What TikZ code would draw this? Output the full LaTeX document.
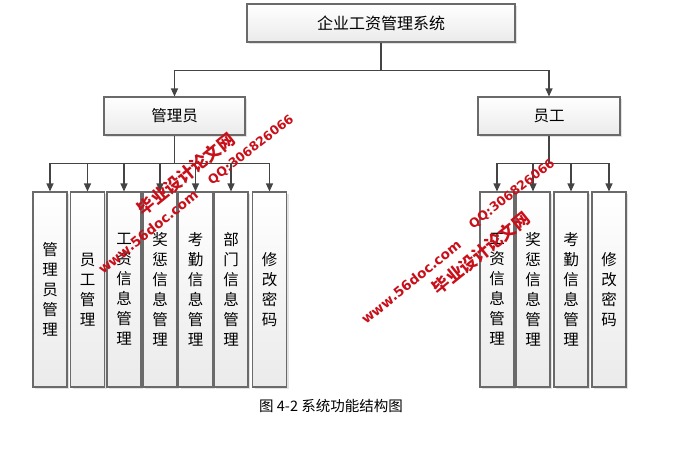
\documentclass[tikz,border=0pt]{standalone}
\usepackage{fontspec}
\setmainfont{Noto Sans CJK SC}
\newfontfamily\wmlatin{DejaVu Sans}
\usetikzlibrary{arrows.meta,shadows,calc}
\definecolor{boxline}{HTML}{6A6A6A}
\definecolor{conn}{HTML}{444444}
\definecolor{wmred}{HTML}{C8101A}
\tikzset{
  box/.style={draw=boxline, line width=1.1pt, top color=white, bottom color=gray!16,
    drop shadow={shadow xshift=2pt, shadow yshift=-2pt, fill=gray!45, opacity=0.5},
    inner sep=0pt, align=center},
  hbox/.style={box, minimum height=38pt, font=\fontsize{15.5}{18}\selectfont},
  vbox/.style={box, minimum width=34pt, minimum height=195pt, font=\fontsize{15.5}{20}\selectfont},
  line/.style={draw=conn, line width=1.2pt},
  arr/.style={line, -{Triangle[length=8pt,width=7pt]}},
  wm/.style={text=wmred, font=\bfseries, rotate=39, inner sep=0pt}
}
\begin{document}
\begin{tikzpicture}[x=1pt,y=-1pt]
\useasboundingbox (0,0) rectangle (673,451);
\fill[white] (0,0) rectangle (673,451);
% top level
\node[hbox, minimum width=268pt, font=\fontsize{16}{18}\selectfont] (top) at (381,23) {企业工资管理系统};
\node[hbox, minimum width=141pt] (mgr) at (174.5,116) {管理员};
\node[hbox, minimum width=142pt] (emp) at (549,116) {员工};
% manager columns
\node[vbox] (m1) at (50,289.5) {管\\理\\员\\管\\理};
\node[vbox] (m2) at (87.5,289.5) {员\\工\\管\\理};
\node[vbox] (m3) at (124,289.5) {工\\资\\信\\息\\管\\理};
\node[vbox] (m4) at (160,289.5) {奖\\惩\\信\\息\\管\\理};
\node[vbox] (m5) at (195.5,289.5) {考\\勤\\信\\息\\管\\理};
\node[vbox] (m6) at (231,289.5) {部\\门\\信\\息\\管\\理};
\node[vbox] (m7) at (269.5,289.5) {修\\改\\密\\码};
% employee columns
\node[vbox] (e1) at (497,289.5) {工\\资\\信\\息\\管\\理};
\node[vbox] (e2) at (533,289.5) {奖\\惩\\信\\息\\管\\理};
\node[vbox] (e3) at (571,289.5) {考\\勤\\信\\息\\管\\理};
\node[vbox] (e4) at (609,289.5) {修\\改\\密\\码};
% connectors
\coordinate (j0) at ($(top.south)+(0,28)$);
\draw[line] (top.south) -- (j0);
\draw[arr] (j0) -| (mgr.north);
\draw[arr] (j0) -| (emp.north);
\coordinate (j1) at ($(mgr.south)+(0,28)$);
\draw[line] (mgr.south) -- (j1);
\foreach \n in {m1,m2,m3,m4,m5,m6,m7} \draw[arr] (j1) -| (\n.north);
\coordinate (j2) at ($(emp.south)+(0,28)$);
\draw[line] (emp.south) -- (j2);
\foreach \n in {e1,e2,e3,e4} \draw[arr] (j2) -| (\n.north);
% caption
\node[font=\fontsize{14.5}{16}\selectfont] (cap) at (331,406) {图 4-2 系统功能结构图};
% watermarks
\node[wm, font=\wmlatin\bfseries\fontsize{13.5}{15}\selectfont] (w1) at (148,232) {www.56doc.com};
\node[wm, font=\bfseries\fontsize{17}{19}\selectfont] (w2) at (186,174) {毕业设计论文网};
\node[wm, rotate=-1, font=\wmlatin\bfseries\fontsize{12.5}{14}\selectfont] (w3) at (251,150) {QQ:306826066};
\node[wm, font=\wmlatin\bfseries\fontsize{13.5}{15}\selectfont] (w4) at (411,282) {www.56doc.com};
\node[wm, font=\bfseries\fontsize{17}{19}\selectfont] (w5) at (481,253) {毕业设计论文网};
\node[wm, rotate=-1, font=\wmlatin\bfseries\fontsize{12.5}{14}\selectfont] (w6) at (512,194) {QQ:306826066};
\end{tikzpicture}
\end{document}
